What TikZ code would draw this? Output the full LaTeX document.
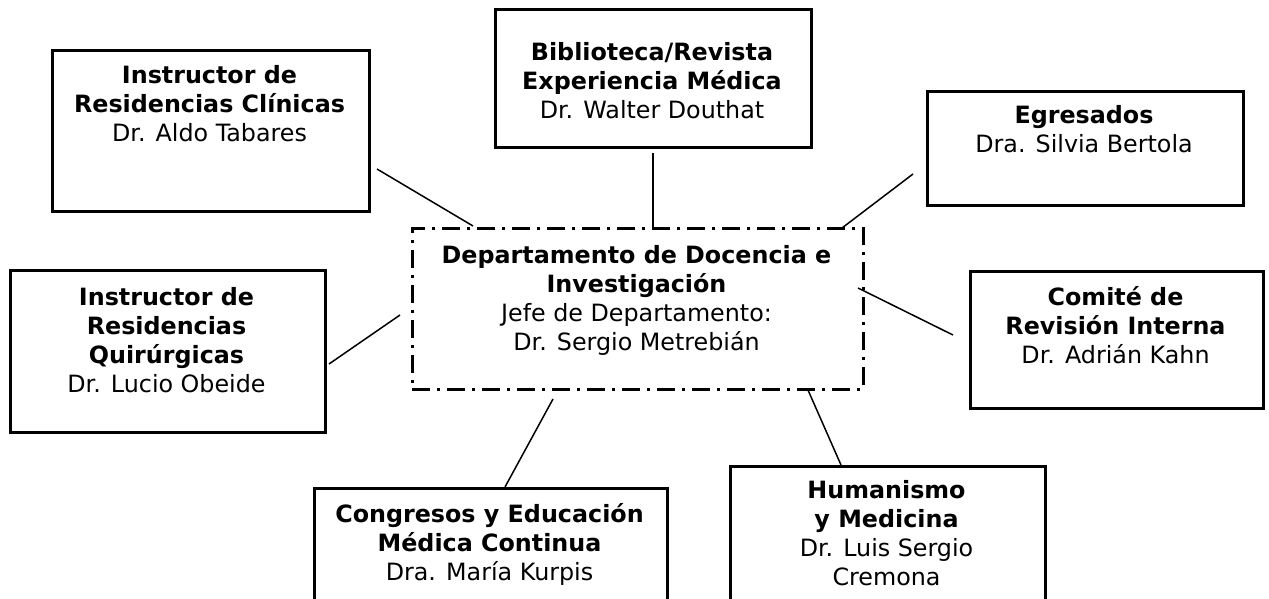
\documentclass[tikz,border=0pt]{standalone}
\usepackage{fontspec}
\setmainfont{DejaVu Sans}
\begin{document}
\begin{tikzpicture}[x=1pt,y=-1pt,
  box/.style={draw, line width=2.8pt, inner sep=0pt, anchor=north west},
  mainbox/.style={draw, line width=2.6pt, dash pattern=on 18pt off 7pt on 3pt off 7pt, inner sep=0pt, anchor=north west},
  lbl/.style={anchor=north, inner sep=0pt, align=center, font=\fontsize{23.8}{29}\selectfont},
  conn/.style={line width=1.5pt}]
\useasboundingbox (0,0) rectangle (1269,599);
\clip (0,0) rectangle (1269,599);
\fill[white] (0,0) rectangle (1269,599);

% boxes
\node[box, minimum width=317pt, minimum height=161pt] (A) at (51,49) {};
\node[box, minimum width=316pt, minimum height=138pt] (B) at (494,8) {};
\node[box, minimum width=316pt, minimum height=114pt] (C) at (926,90) {};
\node[box, minimum width=315pt, minimum height=162pt] (D) at (9,269) {};
\node[mainbox, minimum width=451pt, minimum height=161pt] (M) at (411,227) {};
\node[box, minimum width=293pt, minimum height=137pt] (E) at (969,270) {};
\node[box, minimum width=353pt, minimum height=140pt] (F) at (313,487) {};
\node[box, minimum width=315pt, minimum height=160pt] (G) at (729,465) {};

% texts
\node[lbl] (At) at (209.5,62.7) {\strut\textbf{Instructor de}\\\textbf{Residencias Clínicas}\\Dr. Aldo Tabares};
\node[lbl] (Bt) at (652,39.7) {\strut\textbf{Biblioteca/Revista}\\\textbf{Experiencia Médica}\\Dr. Walter Douthat};
\node[lbl] (Ct) at (1084,102.7) {\strut\textbf{Egresados}\\Dra. Silvia Bertola};
\node[lbl] (Dt) at (166.5,284.7) {\strut\textbf{Instructor de}\\\textbf{Residencias}\\\textbf{Quirúrgicas}\\Dr. Lucio Obeide};
\node[lbl] (Mt) at (636.5,242.7) {\strut\textbf{Departamento de Docencia e}\\\textbf{Investigación}\\Jefe de Departamento:\\Dr. Sergio Metrebián};
\node[lbl] (Et) at (1115.5,284.7) {\strut\textbf{Comité de}\\\textbf{Revisión Interna}\\Dr. Adrián Kahn};
\node[lbl] (Ft) at (489.5,501.7) {\strut\textbf{Congresos y Educación}\\\textbf{Médica Continua}\\Dra. María Kurpis};
\node[lbl] (Gt) at (886.5,477.7) {\strut\textbf{Humanismo}\\\textbf{y Medicina}\\Dr. Luis Sergio\\Cremona};

% connector ends
\coordinate (a1) at (377,169); \coordinate (a2) at (473,226);
\coordinate (b1) at (653,153); \coordinate (b2) at (653,227);
\coordinate (c1) at (913,174); \coordinate (c2) at (842,228);
\coordinate (d1) at (329,364); \coordinate (d2) at (400,315);
\coordinate (e1) at (953,335); \coordinate (e2) at (858,288);
\coordinate (f1) at (505,487); \coordinate (f2) at (553,399);
\coordinate (g1) at (841,465); \coordinate (g2) at (808,390);

\draw[conn] (a1) -- (a2);
\draw[conn] (b1) -- (b2);
\draw[conn] (c1) -- (c2);
\draw[conn] (d1) -- (d2);
\draw[conn] (e1) -- (e2);
\draw[conn] (f1) -- (f2);
\draw[conn] (g1) -- (g2);
\end{tikzpicture}
\end{document}
